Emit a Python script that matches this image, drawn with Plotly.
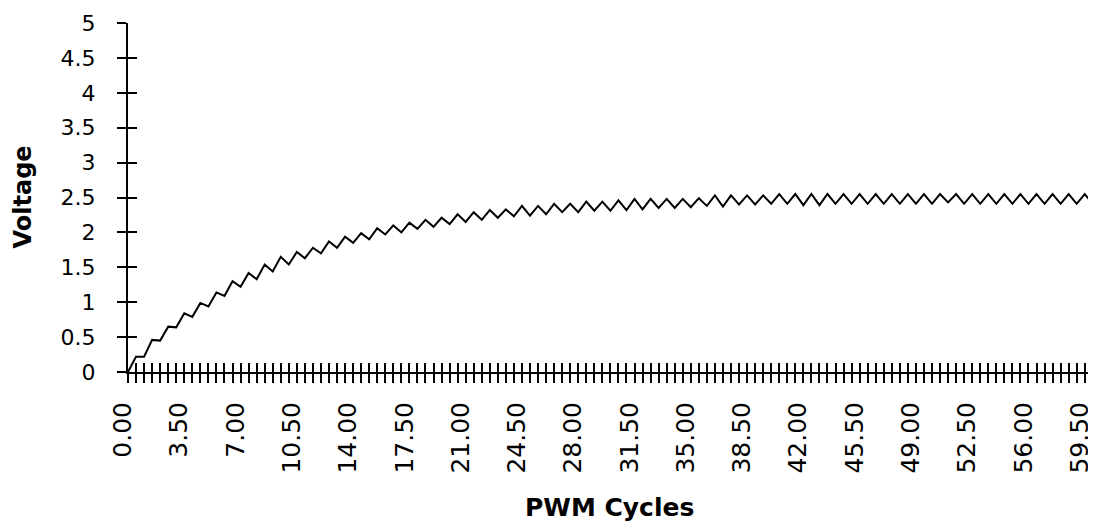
import plotly.graph_objects as go

cycles = [0, 0.5, 1, 1.5, 2, 2.5, 3, 3.5, 4, 4.5, 5, 5.5, 6, 6.5, 7, 7.5, 8, 8.5, 9, 9.5,
          10, 10.5, 11, 11.5, 12, 12.5, 13, 13.5, 14, 14.5, 15, 15.5, 16, 16.5, 17, 17.5, 18, 18.5, 19, 19.5,
          20, 20.5, 21, 21.5, 22, 22.5, 23, 23.5, 24, 24.5, 25, 25.5, 26, 26.5, 27, 27.5, 28, 28.5, 29, 29.5,
          30, 30.5, 31, 31.5, 32, 32.5, 33, 33.5, 34, 34.5, 35, 35.5, 36, 36.5, 37, 37.5, 38, 38.5, 39, 39.5,
          40, 40.5, 41, 41.5, 42, 42.5, 43, 43.5, 44, 44.5, 45, 45.5, 46, 46.5, 47, 47.5, 48, 48.5, 49, 49.5,
          50, 50.5, 51, 51.5, 52, 52.5, 53, 53.5, 54, 54.5, 55, 55.5, 56, 56.5, 57, 57.5, 58, 58.5, 59, 59.5,
          60, 60.5]

voltage = [0.00, 0.22, 0.22, 0.46, 0.45, 0.65, 0.64, 0.84, 0.79, 0.99,
           0.94, 1.14, 1.09, 1.30, 1.22, 1.42, 1.33, 1.54, 1.44, 1.65,
           1.54, 1.72, 1.63, 1.78, 1.70, 1.87, 1.78, 1.94, 1.85, 1.99,
           1.90, 2.06, 1.97, 2.10, 2.00, 2.14, 2.05, 2.18, 2.08, 2.21,
           2.12, 2.26, 2.15, 2.29, 2.18, 2.32, 2.21, 2.33, 2.23, 2.38,
           2.24, 2.38, 2.26, 2.41, 2.29, 2.41, 2.29, 2.44, 2.31, 2.44,
           2.31, 2.46, 2.32, 2.48, 2.33, 2.48, 2.35, 2.48, 2.35, 2.48,
           2.36, 2.49, 2.38, 2.53, 2.37, 2.53, 2.40, 2.53, 2.40, 2.53,
           2.41, 2.55, 2.41, 2.55, 2.39, 2.55, 2.39, 2.55, 2.41, 2.55,
           2.41, 2.55, 2.41, 2.55, 2.41, 2.55, 2.41, 2.55, 2.41, 2.55,
           2.41, 2.55, 2.43, 2.55, 2.41, 2.55, 2.41, 2.55, 2.41, 2.55,
           2.41, 2.55, 2.41, 2.55, 2.41, 2.55, 2.41, 2.55, 2.41, 2.55,
           2.41, 2.55]

x_tick_vals = [0, 3.5, 7, 10.5, 14, 17.5, 21, 24.5, 28, 31.5, 35, 38.5, 42, 45.5, 49, 52.5, 56, 59.5]
x_tick_labels = ["0.00", "3.50", "7.00", "10.50", "14.00", "17.50", "21.00", "24.50", "28.00",
                 "31.50", "35.00", "38.50", "42.00", "45.50", "49.00", "52.50", "56.00", "59.50"]
y_tick_vals = [0, 0.5, 1, 1.5, 2, 2.5, 3, 3.5, 4, 4.5, 5]
y_tick_labels = ["0", "0.5", "1", "1.5", "2", "2.5", "3", "3.5", "4", "4.5", "5"]

FONT = "DejaVu Sans"
X_RANGE = [0, 60.2]
Y_RANGE = [0, 5]

fig = go.Figure()
fig.add_trace(go.Scatter(x=cycles, y=voltage, mode="lines",
                         line=dict(color="black", width=2), showlegend=False, hoverinfo="skip"))
# invisible trace to activate the overlay axes (inside tick halves)
fig.add_trace(go.Scatter(x=cycles, y=voltage, mode="lines", xaxis="x2", yaxis="y2",
                         line=dict(color="rgba(0,0,0,0)", width=0), showlegend=False, hoverinfo="skip"))

tick_common = dict(ticklen=9, tickwidth=2, tickcolor="black")

# page body has an 8px default margin, so the figure is offset by 8px
fig.update_layout(
    width=1088, height=516, autosize=False,
    margin=dict(l=120, r=0, t=15, b=152, pad=0),
    paper_bgcolor="white", plot_bgcolor="white",
    font=dict(family=FONT, color="black"),
    xaxis=dict(range=X_RANGE, showgrid=False, zeroline=False, automargin=False,
               showline=True, linecolor="black", linewidth=2,
               ticks="outside", tickvals=x_tick_vals, ticktext=x_tick_labels,
               tickangle=-90, tickfont=dict(family=FONT, size=25, color="black"),
               ticklabelstandoff=9, ticklabelshift=-5, ticklabeloverflow="allow",
               minor=dict(dtick=0.5, tick0=0, ticks="outside", showgrid=False, **tick_common),
               **tick_common),
    xaxis2=dict(range=X_RANGE, overlaying="x", anchor="y", side="bottom", automargin=False,
                showgrid=False, zeroline=False, showline=False,
                ticks="inside", tickvals=x_tick_vals, showticklabels=False,
                minor=dict(dtick=0.5, tick0=0, ticks="inside", showgrid=False, **tick_common),
                **tick_common),
    yaxis=dict(range=Y_RANGE, showgrid=False, zeroline=False, automargin=False,
               showline=True, linecolor="black", linewidth=2,
               ticks="outside", tickvals=y_tick_vals, ticktext=y_tick_labels,
               tickfont=dict(family=FONT, size=22, color="black"),
               ticklabelstandoff=17, ticklabeloverflow="allow",
               **tick_common),
    yaxis2=dict(range=Y_RANGE, overlaying="y", anchor="x", side="left", automargin=False,
                showgrid=False, zeroline=False, showline=False,
                ticks="inside", tickvals=y_tick_vals, showticklabels=False,
                **tick_common),
    annotations=[
        dict(text="Voltage", xref="paper", yref="paper", x=-0.1095, y=0.5,
             xanchor="center", yanchor="middle", textangle=-90, showarrow=False,
             font=dict(family=FONT, size=24, weight="bold", color="black")),
        dict(text="PWM Cycles", xref="paper", yref="paper", x=0.497, y=-0.387,
             xanchor="center", yanchor="middle", showarrow=False,
             font=dict(family=FONT, size=25, weight="bold", color="black")),
    ],
)

fig.write_html("out.html")
